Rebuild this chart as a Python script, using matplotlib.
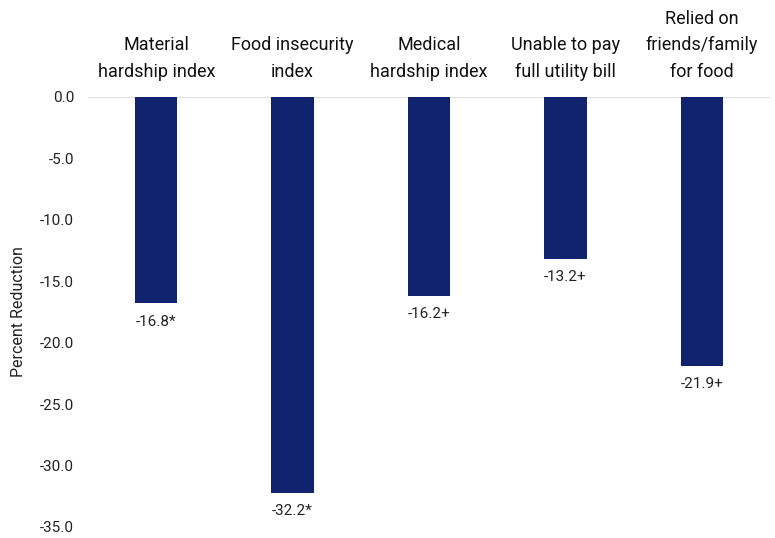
import matplotlib
matplotlib.use("Agg")
import matplotlib.pyplot as plt

categories = ["Material\nhardship index", "Food insecurity\nindex", "Medical\nhardship index",
              "Unable to pay\nfull utility bill", "Relied on\nfriends/family\nfor food"]
values = [-16.8, -32.2, -16.2, -13.2, -21.9]
marks = ["*", "*", "+", "+", "+"]
yticks = [0, -5, -10, -15, -20, -25, -30, -35]

NAVY = "#11226f"
plt.rcParams.update({"font.family": ["Roboto", "DejaVu Sans"]})

fig = plt.figure(figsize=(7.75, 5.38), dpi=100)
ax = fig.add_axes([88 / 775, 11 / 538, 682 / 775, 430 / 538])

x = range(len(categories))
ax.bar(x, values, width=0.31, color=NAVY, zorder=2)
ax.axhline(0, color="#d9d9d9", lw=1.2, zorder=1)

for xi, v, m in zip(x, values, marks):
    ax.annotate(f"{v:.1f}{m}", (xi, v), xytext=(0, -8), textcoords="offset points",
                ha="center", va="top", fontsize=11, color="#222222")

for xi, c in zip(x, categories):
    ax.text(xi, 1.037, c, transform=ax.get_xaxis_transform(), ha="center", va="bottom",
            fontsize=13, color="#111111", linespacing=1.62)

ax.set_xlim(-0.5, len(categories) - 0.5)
ax.set_ylim(-35, 0)
ax.set_yticks(yticks)
ax.set_yticklabels([f"{t:.1f}" for t in yticks], fontsize=11, color="#222222")
ax.set_xticks([])
ax.tick_params(axis="y", length=0, pad=10)
for s in ax.spines.values():
    s.set_visible(False)
ax.set_ylabel("Percent Reduction", fontsize=11.5, color="#222222", labelpad=10)

fig.savefig("out.png", dpi=100)
